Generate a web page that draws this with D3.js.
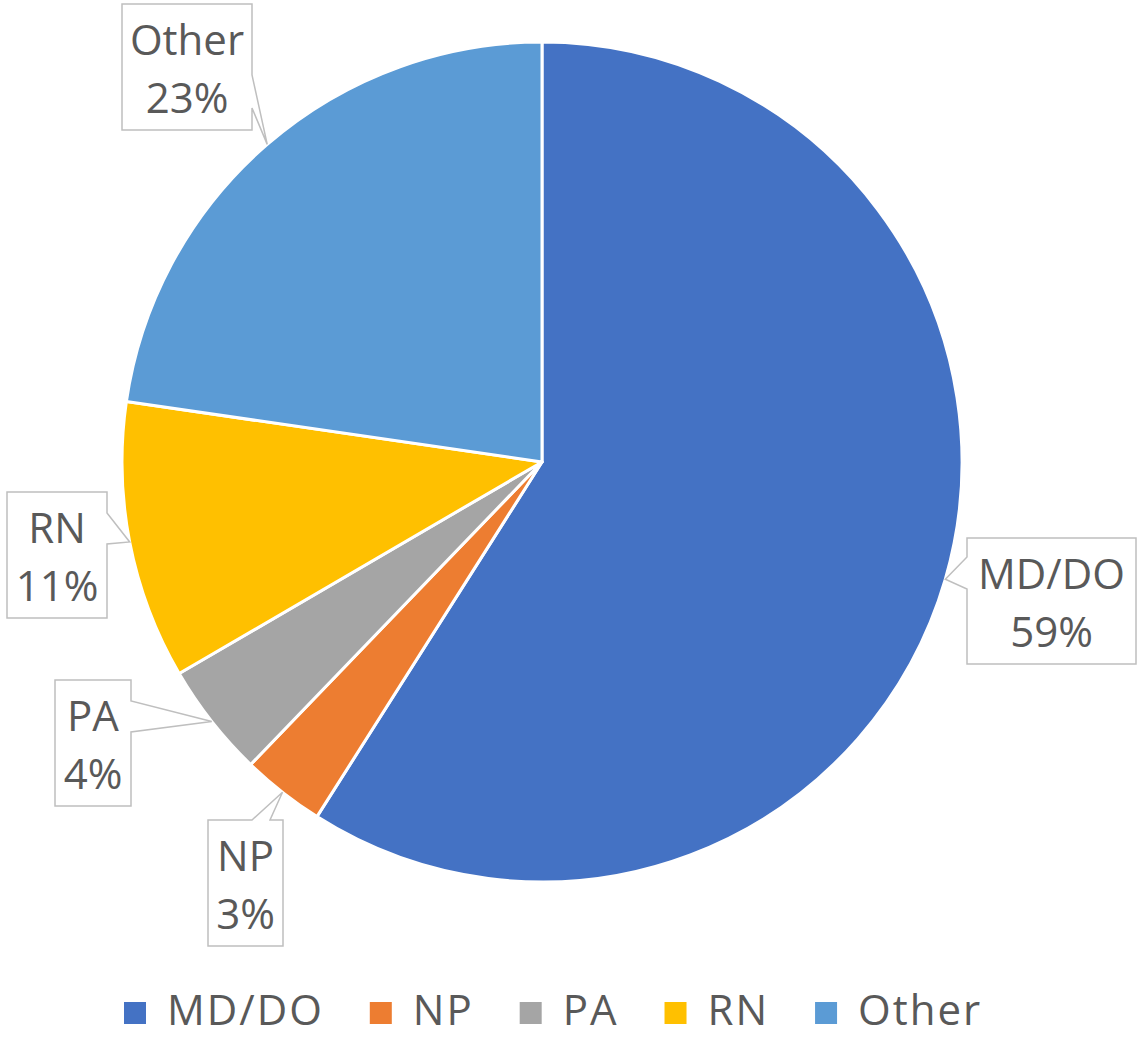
<!DOCTYPE html>
<html>
<head>
<meta charset="utf-8">
<script src="https://cdn.jsdelivr.net/npm/d3@7"></script>
<style>
  body { margin: 0; background: #fff; }
  text { font-family: "Open Sans", "Noto Sans", sans-serif; fill: #595959; }
</style>
</head>
<body>
<svg id="chart" width="1140" height="1038"></svg>
<script>
// slice data (percent of total)
var categories = ["MD/DO", "NP", "PA", "RN", "Other"];
var shares = [59.0, 3.2, 4.4, 10.7, 22.7];
var colors = ["#4472C4", "#ED7D31", "#A5A5A5", "#FFC000", "#5B9BD5"];

// callout boxes: left, top, width, side the pointer leaves from, pointer span on that side
var callouts = [
    {x: 967, y: 538, w: 169, side: "left", a: 19, b: 51},
    {x: 208, y: 820, w: 75, side: "top", a: 44, b: 62},
    {x: 55, y: 680, w: 76, side: "right", a: 21, b: 52},
    {x: 7, y: 492, w: 100, side: "right", a: 21, b: 52},
    {x: 122, y: 4, w: 130, side: "right", a: 71, b: 104}
];
var boxH = 126;

var svg = d3.select("#chart");
var cx = 542, cy = 462, radius = 420;

var pie = d3.pie().sort(null).value(function(d) { return d; });
var arcs = pie(shares);

var arc = d3.arc().innerRadius(0).outerRadius(radius);

var g = svg.append("g").attr("transform", "translate(" + cx + "," + cy + ")");

g.selectAll("path")
    .data(arcs)
    .enter()
    .append("path")
    .attr("d", arc)
    .attr("fill", function(d, i) { return colors[i]; })
    .attr("stroke", "#fff")
    .attr("stroke-width", 3)
    .attr("stroke-linejoin", "round");

// callout labels
arcs.forEach(function(d, i) {
    var c = callouts[i];
    var mid = (d.startAngle + d.endAngle) / 2;
    var px = cx + radius * Math.sin(mid);
    var py = cy - radius * Math.cos(mid);
    var x0 = c.x, y0 = c.y, x1 = c.x + c.w, y1 = c.y + boxH;
    var pts;
    if (c.side === "right") {
        pts = [[x0, y0], [x1, y0], [x1, y0 + c.a], [px, py], [x1, y0 + c.b], [x1, y1], [x0, y1]];
    } else if (c.side === "left") {
        pts = [[x0, y0], [x1, y0], [x1, y1], [x0, y1], [x0, y0 + c.b], [px, py], [x0, y0 + c.a]];
    } else {
        pts = [[x0, y0], [x0 + c.a, y0], [px, py], [x0 + c.b, y0], [x1, y0], [x1, y1], [x0, y1]];
    }
    svg.append("path")
        .attr("d", "M" + pts.map(function(p) { return p.join(","); }).join("L") + "Z")
        .attr("fill", "#fff")
        .attr("stroke", "#BFBFBF")
        .attr("stroke-width", 1.5);

    var t = svg.append("text")
        .attr("text-anchor", "middle")
        .attr("font-size", 42);
    t.append("tspan")
        .attr("x", c.x + c.w / 2)
        .attr("y", c.y + 51)
        .text(categories[i]);
    t.append("tspan")
        .attr("x", c.x + c.w / 2)
        .attr("y", c.y + 109)
        .text(Math.round(shares[i]) + "%");
});

// legend
var legend = svg.append("g");
var lx = 124;
categories.forEach(function(name, i) {
    legend.append("rect")
        .attr("x", lx)
        .attr("y", 1002)
        .attr("width", 22)
        .attr("height", 22)
        .attr("fill", colors[i]);
    var txt = legend.append("text")
        .attr("x", lx + 43)
        .attr("y", 1025)
        .attr("font-size", 42)
        .attr("letter-spacing", 2)
        .text(name);
    lx = lx + 43 + txt.node().getComputedTextLength() + 46;
});
</script>
</body>
</html>
